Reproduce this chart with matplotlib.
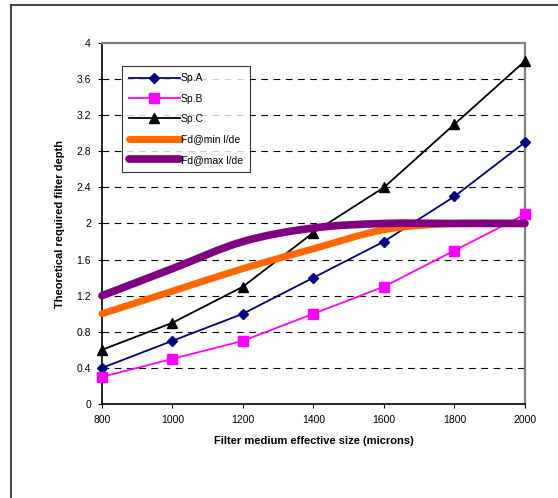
import matplotlib
matplotlib.use("Agg")
import matplotlib.pyplot as plt
from matplotlib.path import Path
from matplotlib.patches import PathPatch
from matplotlib.lines import Line2D

plt.rcParams['font.family'] = ['Liberation Sans', 'DejaVu Sans']

# Datos
tamanos = [800, 1000, 1200, 1400, 1600, 1800, 2000]
sp_a = [0.4, 0.7, 1.0, 1.4, 1.8, 2.3, 2.9]
sp_b = [0.3, 0.5, 0.7, 1.0, 1.3, 1.7, 2.1]
sp_c = [0.6, 0.9, 1.3, 1.9, 2.4, 3.1, 3.8]
fd_min = [1.0, 1.25, 1.5, 1.72, 1.93, 2.0, 2.0]
fd_max = [1.2, 1.5, 1.8, 1.95, 2.0, 2.0, 2.0]
y_ticks = [0, 0.4, 0.8, 1.2, 1.6, 2, 2.4, 2.8, 3.2, 3.6, 4]
y_labels = ["0", "0.4", "0.8", "1.2", "1.6", "2", "2.4", "2.8", "3.2", "3.6", "4"]


def curva_suave(ax, xs, ys, color, ancho):
    # Curva suavizada tipo Excel (Bezier con puntos de control Catmull-Rom)
    pts = list(zip(xs, ys))
    verts = [pts[0]]
    codes = [Path.MOVETO]
    n = len(pts)
    for i in range(n - 1):
        p0 = pts[i - 1] if i > 0 else pts[i]
        p1 = pts[i]
        p2 = pts[i + 1]
        p3 = pts[i + 2] if i + 2 < n else pts[i + 1]
        c1 = (p1[0] + (p2[0] - p0[0]) / 6, p1[1] + (p2[1] - p0[1]) / 6)
        c2 = (p2[0] - (p3[0] - p1[0]) / 6, p2[1] - (p3[1] - p1[1]) / 6)
        verts += [c1, c2, p2]
        codes += [Path.CURVE4] * 3
    patch = PathPatch(Path(verts, codes), facecolor="none", edgecolor=color,
                      lw=ancho, capstyle="round", joinstyle="round", zorder=3,
                      clip_on=False)
    ax.add_patch(patch)


fig = plt.figure(figsize=(5.58, 4.98), dpi=100)
ax = fig.add_axes([0.1828, 0.1888, 0.758, 0.7249])

ax.plot(tamanos, sp_a, color="#000080", marker="D", ms=5, lw=1.3, zorder=3, clip_on=False)
ax.plot(tamanos, sp_b, color="#FF00FF", marker="s", ms=6.5, lw=1.3, zorder=3, clip_on=False)
ax.plot(tamanos, sp_c, color="black", marker="^", ms=6.5, lw=1.3, zorder=3, clip_on=False)
curva_suave(ax, tamanos, fd_min, "#FF6600", 5)
curva_suave(ax, tamanos, fd_max, "#800080", 5.5)

ax.set_xlim(800, 2000)
ax.set_ylim(0, 4)
ax.set_xticks(tamanos)
ax.set_xticklabels([str(t) for t in tamanos])
ax.set_yticks(y_ticks)
ax.set_yticklabels(y_labels)
ax.tick_params(labelsize=7.5, length=3, width=0.8, direction="out", pad=5)

for y in y_ticks[1:-1]:
    ax.axhline(y, color="black", lw=0.8, ls=(0, (6, 5)), zorder=1)

ax.spines["left"].set_color("black")
ax.spines["bottom"].set_color("black")
ax.spines["left"].set_linewidth(1.2)
ax.spines["bottom"].set_linewidth(1.2)
ax.spines["top"].set_color("#808080")
ax.spines["right"].set_color("#808080")
ax.spines["top"].set_linewidth(1.6)
ax.spines["right"].set_linewidth(1.6)

ax.set_xlabel("Filter medium effective size (microns)", fontsize=8, fontweight="bold", labelpad=8)
ax.set_ylabel("Theoretical required filter depth", fontsize=8, fontweight="bold", labelpad=8)

# Leyenda
handles = [
    Line2D([], [], color="#000080", marker="D", ms=5, lw=1.3),
    Line2D([], [], color="#FF00FF", marker="s", ms=6.5, lw=1.3),
    Line2D([], [], color="black", marker="^", ms=6.5, lw=1.3),
    Line2D([], [], color="#FF6600", lw=5, solid_capstyle="round"),
    Line2D([], [], color="#800080", lw=5.5, solid_capstyle="round"),
]
nombres = ["Sp.A", "Sp.B", "Sp.C", "Fd@min l/de", "Fd@max l/de"]
leg = ax.legend(handles, nombres, loc="upper left", bbox_to_anchor=(0.047, 0.935),
                fontsize=7.5, frameon=True, fancybox=False, handlelength=4.9,
                handletextpad=0.1, borderpad=0.65, labelspacing=1.0,
                borderaxespad=0)
leg.get_frame().set_edgecolor("black")
leg.get_frame().set_linewidth(0.8)
leg.set_zorder(5)

# Marco exterior (solo arriba e izquierda)
fig.add_artist(Line2D([11 / 558, 1], [1 - 5 / 498, 1 - 5 / 498], color="#333333", lw=1.3,
                      transform=fig.transFigure))
fig.add_artist(Line2D([11 / 558, 11 / 558], [0, 1 - 5 / 498], color="#333333", lw=1.3,
                      transform=fig.transFigure))

fig.savefig("out.png", dpi=100)
